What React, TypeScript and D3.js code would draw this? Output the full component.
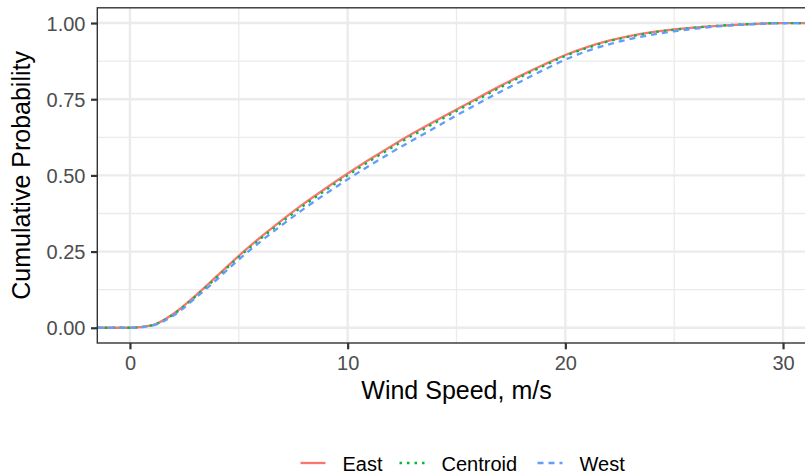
import React, { useEffect, useRef } from "react";
import * as d3 from "d3";

// wind speed (m/s) and cumulative probability
const speeds = [
  0, 1, 2, 3, 4, 5, 6, 7, 8, 9, 10, 11, 12, 13, 14, 15, 16, 17, 18, 19, 20, 21,
  22, 23, 24, 25, 26, 27, 28, 29, 30,
];
const east = [
  0, 0.008, 0.046, 0.105, 0.17, 0.236, 0.297, 0.354, 0.408, 0.458, 0.506, 0.552,
  0.596, 0.638, 0.678, 0.716, 0.755, 0.793, 0.829, 0.863, 0.895, 0.921, 0.942,
  0.958, 0.97, 0.979, 0.986, 0.991, 0.995, 0.998, 1,
];
const centroid = [
  0, 0.008, 0.044, 0.102, 0.166, 0.232, 0.292, 0.348, 0.402, 0.452, 0.5, 0.546,
  0.59, 0.632, 0.672, 0.711, 0.75, 0.788, 0.825, 0.859, 0.892, 0.918, 0.94,
  0.956, 0.969, 0.978, 0.985, 0.991, 0.995, 0.998, 1,
];
const west = [
  0, 0.007, 0.04, 0.097, 0.159, 0.224, 0.283, 0.338, 0.391, 0.44, 0.487, 0.532,
  0.575, 0.616, 0.656, 0.697, 0.736, 0.774, 0.81, 0.846, 0.88, 0.908, 0.93,
  0.948, 0.962, 0.973, 0.982, 0.989, 0.994, 0.997, 1,
];
const seriesNames = ["East", "Centroid", "West"];
const seriesColors = ["#F8766D", "#00BA38", "#619CFF"];
const seriesDash = [null, "2.5,5", "6,5"];
const xTicks = [0, 10, 20, 30];
const xMinor = [5, 15, 25];
const yTicks = [0, 0.25, 0.5, 0.75, 1];
const yMinor = [0.125, 0.375, 0.625, 0.875];

const FONT = "'Liberation Sans', Arial, sans-serif";

export default function App() {
  const svgRef = useRef<SVGSVGElement>(null);

  useEffect(() => {
    const w = 805;
    const h = 475;
    const left = 97.3;
    const top = 7.8;
    const right = 815.7; // panel runs past the window edge
    const bottom = 343;

    d3.select(svgRef.current).selectAll("*").remove();
    const svg = d3.select(svgRef.current).attr("width", w).attr("height", h);

    const x = d3.scaleLinear().domain([-1.5, 31.5]).range([left, right]);
    const y = d3.scaleLinear().domain([-0.05, 1.05]).range([bottom, top]);

    // grid
    const grid = svg.append("g");
    grid
      .selectAll(".xmin")
      .data(xMinor)
      .join("line")
      .attr("x1", (d) => x(d))
      .attr("x2", (d) => x(d))
      .attr("y1", top)
      .attr("y2", bottom)
      .attr("stroke", "#EBEBEB")
      .attr("stroke-width", 1.3);
    grid
      .selectAll(".ymin")
      .data(yMinor)
      .join("line")
      .attr("x1", left)
      .attr("x2", right)
      .attr("y1", (d) => y(d))
      .attr("y2", (d) => y(d))
      .attr("stroke", "#EBEBEB")
      .attr("stroke-width", 1.3);
    grid
      .selectAll(".xmaj")
      .data(xTicks)
      .join("line")
      .attr("x1", (d) => x(d))
      .attr("x2", (d) => x(d))
      .attr("y1", top)
      .attr("y2", bottom)
      .attr("stroke", "#EBEBEB")
      .attr("stroke-width", 2.4);
    grid
      .selectAll(".ymaj")
      .data(yTicks)
      .join("line")
      .attr("x1", left)
      .attr("x2", right)
      .attr("y1", (d) => y(d))
      .attr("y2", (d) => y(d))
      .attr("stroke", "#EBEBEB")
      .attr("stroke-width", 2.4);

    // lines (stat_ecdf style: padded out to the panel edges)
    const [x0, x1] = x.domain();
    const line = d3
      .line<[number, number]>()
      .x((d) => x(d[0]))
      .y((d) => y(d[1]))
      .curve(d3.curveMonotoneX);
    [east, centroid, west].forEach((vals, i) => {
      const pts: [number, number][] = [[x0, 0]];
      speeds.forEach((s, j) => pts.push([s, vals[j]]));
      pts.push([x1, 1]);
      const p = svg
        .append("path")
        .attr("d", line(pts))
        .attr("fill", "none")
        .attr("stroke", seriesColors[i])
        .attr("stroke-width", 2.3);
      if (seriesDash[i]) p.attr("stroke-dasharray", seriesDash[i]);
    });

    // panel border
    svg
      .append("rect")
      .attr("x", left)
      .attr("y", top)
      .attr("width", right - left)
      .attr("height", bottom - top)
      .attr("fill", "none")
      .attr("stroke", "#333333")
      .attr("stroke-width", 1.4);

    // x axis
    const xAxis = d3
      .axisBottom(x)
      .tickValues(xTicks)
      .tickSize(6.3)
      .tickPadding(5)
      .tickFormat(d3.format("d"));
    const gx = svg.append("g").attr("transform", `translate(0,${bottom})`).call(xAxis);
    gx.select(".domain").remove();
    gx.selectAll("line").attr("stroke", "#333333").attr("stroke-width", 2.2);
    gx.selectAll("text")
      .attr("fill", "#4D4D4D")
      .style("font-family", FONT)
      .style("font-size", "20px")
      .attr("dy", "0.78em");

    // y axis
    const yAxis = d3
      .axisLeft(y)
      .tickValues(yTicks)
      .tickSize(6.3)
      .tickPadding(5.5)
      .tickFormat(d3.format(".2f"));
    const gy = svg.append("g").attr("transform", `translate(${left},0)`).call(yAxis);
    gy.select(".domain").remove();
    gy.selectAll("line").attr("stroke", "#333333").attr("stroke-width", 2.2);
    gy.selectAll("text")
      .attr("fill", "#4D4D4D")
      .style("font-family", FONT)
      .style("font-size", "20px")
      .attr("dy", "0.36em");

    // axis titles
    svg
      .append("text")
      .attr("x", (left + right) / 2)
      .attr("y", 399)
      .attr("text-anchor", "middle")
      .style("font-family", FONT)
      .style("font-size", "25px")
      .text("Wind Speed, m/s");
    svg
      .append("text")
      .attr("transform", `translate(30,${(top + bottom) / 2}) rotate(-90)`)
      .attr("text-anchor", "middle")
      .style("font-family", FONT)
      .style("font-size", "25px")
      .text("Cumulative Probability");

    // legend
    const keyX = [300.5, 399.5, 537.5];
    const legend = svg.append("g");
    seriesNames.forEach((name, i) => {
      const l = legend
        .append("line")
        .attr("x1", keyX[i])
        .attr("x2", keyX[i] + 25)
        .attr("y1", 463)
        .attr("y2", 463)
        .attr("stroke", seriesColors[i])
        .attr("stroke-width", 2.3);
      if (seriesDash[i]) l.attr("stroke-dasharray", seriesDash[i]);
      legend
        .append("text")
        .attr("x", keyX[i] + 42)
        .attr("y", 470.5)
        .style("font-family", FONT)
        .style("font-size", "20px")
        .text(name);
    });
  }, []);

  return (
    <svg
      ref={svgRef}
      style={{ position: "absolute", left: 0, top: 0, background: "#fff" }}
    ></svg>
  );
}
